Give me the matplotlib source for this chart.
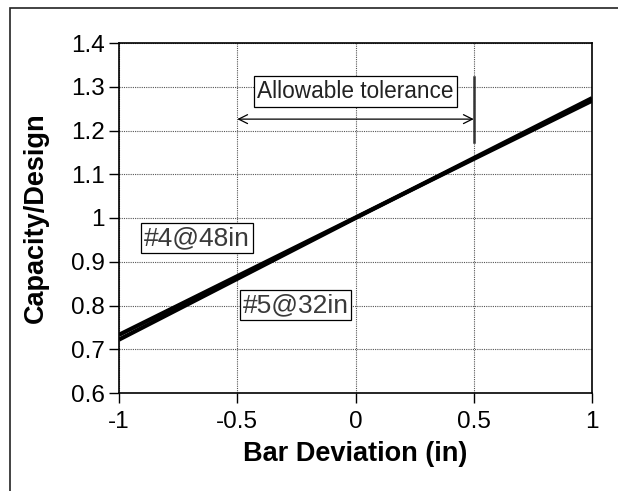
import matplotlib
import matplotlib.pyplot as plt
from matplotlib.patches import Rectangle

matplotlib.use("Agg")

plt.rcParams["font.family"] = ["Liberation Sans", "DejaVu Sans"]

# Bar deviation (in) vs capacity/design ratio for two bar layouts
deviation = [-1.0, -0.5, 0.0, 0.5, 1.0]
ratio_4_48 = [0.722, 0.861, 1.0, 1.137, 1.274]
ratio_5_32 = [0.733, 0.867, 1.001, 1.135, 1.268]

x_ticks = [-1, -0.5, 0, 0.5, 1]
x_tick_labels = ["-1", "-0.5", "0", "0.5", "1"]
y_ticks = [0.6, 0.7, 0.8, 0.9, 1.0, 1.1, 1.2, 1.3, 1.4]
y_tick_labels = ["0.6", "0.7", "0.8", "0.9", "1", "1.1", "1.2", "1.3", "1.4"]

tolerance_lo, tolerance_hi = -0.5, 0.5


def main() -> None:
    fig = plt.figure(figsize=(6.18, 4.91), dpi=100)
    fig.patches.append(
        Rectangle((10 / 618, -0.1), 1.2, 1 - 8 / 491 + 0.1,
                  transform=fig.transFigure, fill=False,
                  edgecolor="#222222", linewidth=1.2)
    )
    ax = fig.add_axes([119 / 618, 1 - 393 / 491, (592 - 119) / 618, 350 / 491])

    ax.plot(deviation, ratio_4_48, color="black", linewidth=3.0,
            solid_capstyle="butt")
    ax.plot(deviation, ratio_5_32, color="black", linewidth=3.0,
            solid_capstyle="butt")

    ax.set_xlim(-1, 1)
    ax.set_ylim(0.6, 1.4)
    ax.set_xticks(x_ticks)
    ax.set_xticklabels(x_tick_labels)
    ax.set_yticks(y_ticks)
    ax.set_yticklabels(y_tick_labels)
    ax.tick_params(direction="out", length=7, width=1, labelsize=17.5)
    ax.tick_params(axis="x", pad=6)
    ax.tick_params(axis="y", pad=3)
    ax.grid(True, linestyle=(0, (1, 1)), color="#555555", linewidth=0.8)
    ax.set_axisbelow(True)
    for spine in ax.spines.values():
        spine.set_linewidth(1.2)

    ax.set_xlabel("Bar Deviation (in)", fontsize=19.5, fontweight="bold",
                  labelpad=6)
    ax.set_ylabel("Capacity/Design", fontsize=19.5, fontweight="bold",
                  labelpad=16)

    ax.annotate("", xy=(tolerance_lo, 1.226), xytext=(tolerance_hi, 1.226),
                arrowprops=dict(arrowstyle="<->", color="black",
                                linewidth=0.9, shrinkA=0, shrinkB=0,
                                mutation_scale=16))
    ax.plot([tolerance_hi, tolerance_hi], [1.174, 1.322], color="#333333",
            linewidth=1.8)
    ax.text(0.0, 1.289, "Allowable tolerance", fontsize=16.3, ha="center",
            va="center", color="#222222",
            bbox=dict(boxstyle="square,pad=0.16", fc="white", ec="black",
                      lw=0.9))

    ax.text(-0.67, 0.954, "#4@48in", fontsize=19, ha="center", va="center",
            color="#3a3a3a",
            bbox=dict(boxstyle="square,pad=0.1", fc="white", ec="black",
                      lw=0.9))
    ax.text(-0.254, 0.801, "#5@32in", fontsize=19, ha="center",
            va="center", color="#3a3a3a",
            bbox=dict(boxstyle="square,pad=0.1", fc="white", ec="black",
                      lw=0.9))

    fig.savefig("out.png", dpi=100)
    plt.close(fig)


if __name__ == "__main__":
    main()
